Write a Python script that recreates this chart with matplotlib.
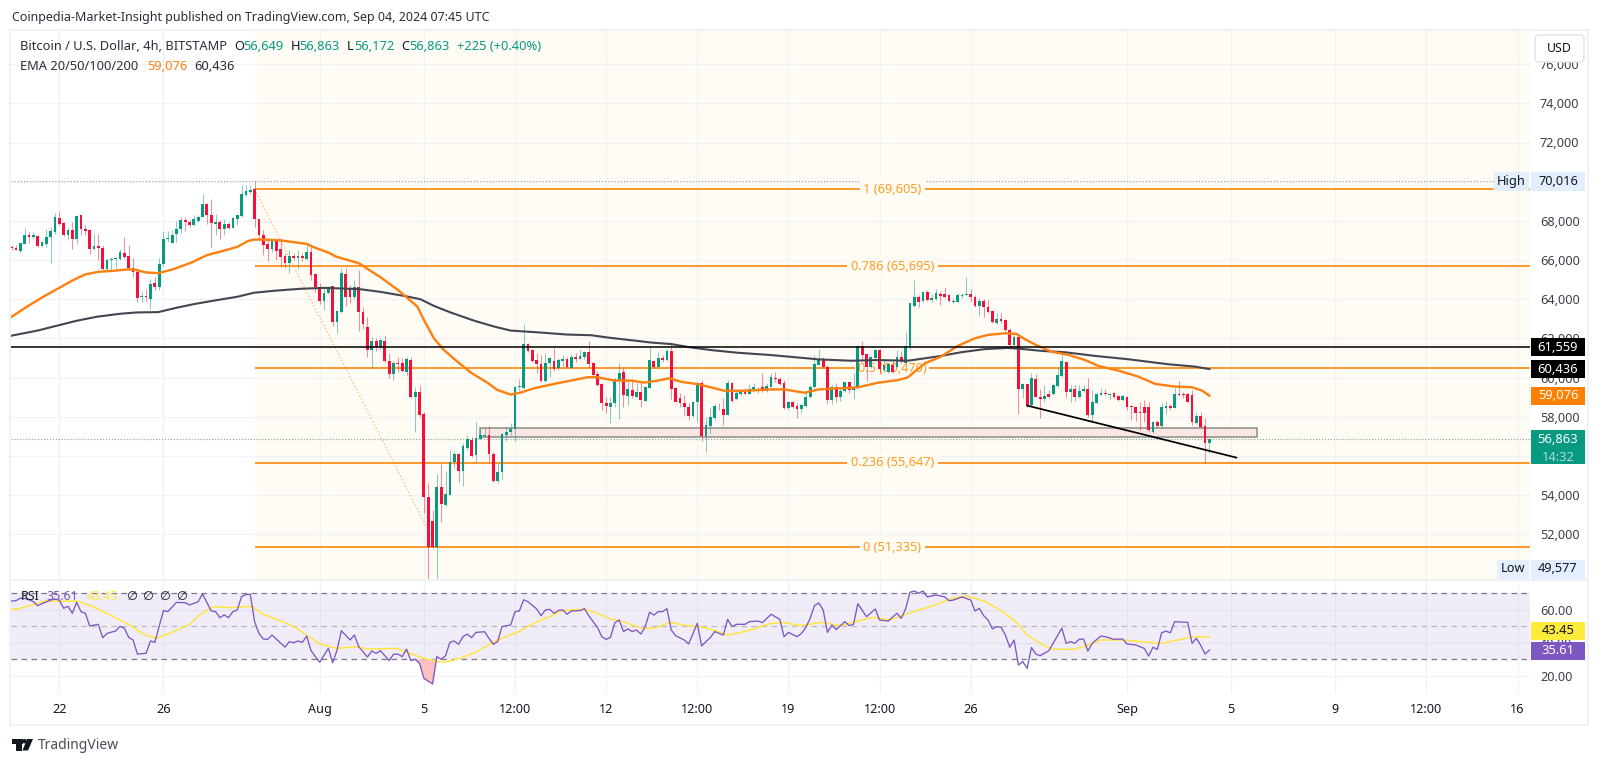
import matplotlib
matplotlib.use("Agg")
import matplotlib.pyplot as plt
from matplotlib.patches import Rectangle, FancyBboxPatch, Polygon, Circle

plt.rcParams['font.family'] = ['Noto Sans', 'DejaVu Sans']

# 4h bars, bar 0 = 22 Jul 2024 00:00
first_bar = -11
opens = [
66657,66606,66453,66844,67269,67167,67235,66708,66844,67167,
67439,68170,67898,67269,67524,67065,68289,67609,67524,66555,
66708,66606,65518,65977,66045,66045,66368,66215,65603,65399,
64107,64175,64005,64804,64634,65773,67065,66895,67354,67575,
68034,67949,67779,68000,68204,68850,68289,67830,67949,67575,
67864,67660,68119,68255,69309,69479,69615,68085,67269,66844,
66555,66980,66553,66213,65873,66213,66094,66213,66043,66434,
65277,64647,63915,64307,64664,62843,63371,65294,64562,64102,
64647,63371,62605,61413,61890,61549,61890,60834,60188,60732,
60732,60307,60903,58996,59286,58146,53924,52699,51371,54435,
53499,54009,55678,56103,55235,56392,56818,56052,56886,57039,
57073,56103,54741,55167,57073,57209,57362,59507,59456,61719,
61413,60885,60698,59847,60732,60868,60477,60868,60937,60477,
61039,60971,61073,61311,60732,60188,59677,58724,58486,58690,
59881,60290,59064,59371,59030,59286,58826,59473,60852,60562,
60987,60903,61379,59481,58936,58715,58477,58034,58766,59702,
57013,57524,57915,58511,58392,58085,59736,58885,59158,59277,
59158,59362,59396,59532,59328,59532,59992,59906,59736,58443,
58749,58545,58375,58562,58987,59498,60638,60962,60553,58851,
59498,59004,59328,59770,59362,59498,61608,61200,60519,60979,
61404,60383,60298,60638,60553,61064,60758,61574,63651,64127,
63906,64349,63957,64008,64264,64273,64204,63864,63881,64188,
64239,64273,64136,63677,63932,63626,63387,62809,63013,62945,
62434,61669,62094,59439,59660,58605,59949,59030,58894,59166,
59166,59592,60086,60818,59252,59422,58996,59320,59422,58077,
58707,59098,59234,59115,59200,59064,58860,59030,58554,58520,
58265,58520,58520,57243,57754,57532,58452,58554,58452,59166,
59166,59166,59098,57669,58060,57532,56649]
highs = [
66793,66759,66861,67660,67439,67439,67269,67014,67609,67694,
68391,68493,67949,67643,67949,68323,68323,67813,67609,67354,
67354,66759,66079,66164,66164,66589,67167,66759,66079,65569,
64413,64498,65025,65144,66079,67473,67473,67524,67983,68204,
68204,68034,68323,68289,69394,68935,69139,68374,68034,68119,
67949,68204,68323,69819,69853,69853,70016,68119,67524,67014,
67014,67014,67115,66349,66519,66349,66519,66349,66826,66826,
65328,64851,64562,64681,64681,63456,65583,65583,64732,64987,
65498,63592,63115,62094,62009,62009,62179,61277,60868,61073,
60987,61039,61073,59541,59626,58264,54605,53243,55082,55593,
55252,56307,56273,56137,56682,57073,56988,57754,57413,57413,
57533,56222,55626,57158,57499,57703,59575,59915,62741,61787,
61447,61243,61158,61243,61073,61498,60987,61158,61073,61209,
61243,61413,61345,61890,60817,60358,59711,59030,59030,59966,
60732,60477,59881,59915,59711,59796,59541,61583,60903,61328,
61158,61447,61838,59532,59192,59107,58715,58817,59787,59872,
58000,58511,58630,58715,58936,59872,59787,59396,59362,59447,
59651,59702,59532,60247,59702,60213,60298,60009,59872,58817,
58817,58681,58681,59277,59617,61149,61438,61030,60621,59617,
59702,59532,59787,59787,60213,61659,61881,61234,61098,61438,
61438,60928,60758,60860,61404,61370,62340,63821,64978,64212,
64383,64468,64263,64502,64434,64613,64273,64051,64307,64307,
65158,64511,64222,64085,64000,63966,63456,63285,63285,63013,
62554,62162,62128,59711,59677,60222,60188,59405,59626,59371,
59660,60528,61243,60869,59626,59626,59626,59626,59966,59371,
59200,59490,59405,59200,59269,59115,59132,59064,58605,58554,
58775,58860,58775,57805,57839,58724,58826,58656,59456,59830,
59286,59234,59371,58265,58265,57924,56863]
lows = [
66504,66487,66351,66827,66895,67099,66674,66674,66674,65858,
67354,67779,67218,67014,66589,66844,67303,67269,66300,66504,
65994,65484,65484,65484,65603,65994,66113,65501,65144,63835,
63835,63903,63478,64447,64447,65705,66929,66878,66929,67405,
67473,67694,67745,67949,68204,67830,66674,67303,67099,67269,
67609,67643,67779,68204,69275,69394,67694,67014,66249,65943,
66419,65994,65634,65583,65328,66008,65549,65975,66009,64987,
64392,63762,63456,64273,62639,62264,63320,63660,63796,64000,
62400,62468,61073,60477,61379,61413,60800,59966,59881,60307,
60290,60085,58962,57243,58009,53074,49700,51286,49577,52648,
53465,53992,55371,54690,54486,56307,55933,55678,56852,56988,
55712,54690,54605,54809,56767,57073,56784,59337,59405,61328,
60817,60256,59796,59779,60051,60324,60392,60562,60477,60477,
60817,60937,60971,60528,60051,59575,58350,58179,57703,58520,
57873,58520,58605,58945,58996,58486,58826,59456,60477,60477,
60817,60868,58928,58732,58511,58085,57830,58000,57745,56775,
56213,57115,57830,58341,57575,58085,58766,58851,59107,59141,
59141,59277,59226,59277,59277,59498,59787,59617,58409,58341,
58426,57915,58170,58511,58953,59464,60638,60485,58630,58630,
58766,58817,59277,59226,58919,59447,60928,59838,60468,60928,
60179,60298,60247,60247,60519,60723,60723,61404,63617,63617,
63872,63906,63872,63957,63702,64051,63881,63830,63864,64051,
64222,63881,63626,63149,63115,63285,62809,62741,62809,62383,
61447,61447,58128,58945,58520,58554,58996,57924,58775,58945,
59115,59541,60052,58996,58775,58809,58945,59286,58009,57754,
58656,59098,59098,58894,58945,58826,58826,58350,57839,57805,
57328,57754,57243,57192,57498,57498,58145,58350,58435,59064,
58945,58741,57584,57635,57447,55660,56172]
closes = [
66623,66521,66861,67269,67201,67269,66708,66912,67184,67473,
68204,67864,67269,67558,67065,68255,67575,67490,66589,66708,
66640,65518,65994,66045,66079,66385,66164,65569,65399,64039,
64175,64124,64770,64634,65773,67065,67116,67303,67575,68034,
67949,67779,68085,68221,68850,68323,67898,67949,67575,67864,
67660,68153,68289,69360,69513,69564,68085,67269,66793,66555,
66980,66453,66145,65873,66213,66111,66213,66111,66434,65243,
64613,63932,64341,64647,62860,63404,65328,64102,64102,64647,
63354,62741,61413,61890,61583,61924,60868,60188,60732,60698,
60324,60937,58996,59286,58094,53890,51371,51371,54435,53533,
54060,55712,56103,55235,56511,56852,56018,56903,57073,57073,
56103,54741,55167,57107,57243,57362,59541,59541,61719,61345,
60868,60698,59847,60766,60987,60426,60903,60971,60528,61039,
60954,61124,61311,60698,60137,59626,58724,58554,58724,59915,
60256,59115,59422,59064,59286,58860,59507,60903,60562,60987,
60903,61379,59422,58766,58681,58477,58034,58766,59702,57013,
57558,57966,58545,58477,58085,59702,58817,59192,59294,59158,
59396,59498,59328,59328,59583,60009,59906,59668,58443,58766,
58477,58409,58596,59021,59532,60672,60928,60519,58851,59498,
59021,59328,59753,59362,59532,61608,61132,60553,61030,61404,
60417,60638,60689,60298,61064,60809,61608,63787,64093,63872,
64349,63957,64042,64298,64161,64136,63915,63932,64222,64222,
64273,64136,63677,63915,63592,63336,62860,63013,62877,62434,
61669,62094,59422,59677,58554,59966,59030,58911,59064,59030,
59626,60137,60869,59269,59422,58996,59337,59422,58077,58741,
59149,59234,59149,59149,59030,58860,59064,58520,58520,58213,
58213,58213,57328,57754,57532,58486,58554,58452,59149,59098,
59115,58775,57720,58060,57498,56648,56863]

ema50_bars = [-11,-7.5,-3.7,0,3.2,5.9,9,12.5,15.5,17.5,20,22.8,26.3,30.5,34,37.8,41,43.6,45,48.6,51,57,58.6,62,63.7,69,74,78,82.5,84,86.3,88.6,91.7,94.8,98.6,100.9,104,106.3,109.4,114,117.9,121.7,124,127.9,131.7,134.8,137.9,140.6,143.2,147,150.2,153.2,157.8,164,167,171.7,175,179.4,183.9,188.6,193.2,195.5,199.4,203.2,207,211,214,218,220.5,222.5,225.5,228.6,232.5,236.3,239.4,244,248.6,252.5,257,261,263.3,265]
ema50_vals = [63104,63614,64124,64583,64974,65263,65399,65450,65518,65501,65365,65331,65535,65875,66249,66470,66674,66980,67048,67031,67000,66826,66655,66383,66179,65838,65123,64477,63626,62945,62009,61413,60817,60256,59745,59371,59133,59234,59456,59677,59847,60018,60018,59847,59847,59745,59847,59966,59787,59668,59498,59328,59328,59396,59396,59226,59396,59447,59498,59736,59872,60008,60723,61073,61617,62009,62179,62264,62230,61958,61617,61328,61158,60902,60596,60358,60052,59677,59541,59507,59337,59076]
ema200_bars = [-11,-5,0,4,8.6,14,17.8,22.8,27,31,36.3,41,44.8,49.4,55.5,61,65.6,69.3,74,79.4,83.2,86.3,90.2,95.5,100.2,104,111,117,122.5,127,132.5,136.4,141,145.5,150.2,156.3,164,171.7,175,182.5,188.6,195.5,200.9,203.2,207.8,213,218.6,221.7,226.3,231.7,238.6,246.3,255.5,261.6,265]
ema200_vals = [62140,62400,62679,62900,63104,63257,63325,63342,63563,63750,63954,64124,64328,64430,64532,64579,64545,64511,64375,64170,64000,63660,63320,62911,62604,62400,62298,62196,62162,62026,61890,61788,61711,61540,61404,61268,61149,60996,60928,60860,60894,60860,61030,61107,61294,61447,61515,61464,61362,61294,61107,60936,60681,60562,60436]

rsi_bars = [-11,-10,-9,-8,-6,-5,-4,-2,-1,0,1,2,3,4,5,6,7,9,10,11,13,14,15,16,17,18,20,21,22,24,25,27,29,30,32,33,35,36,37,38,39,40,41,42,43,44,45,46,47,48,49,52,53,54,55,56,57,58,60,62,63,64,65,67,68,69,71,72,73,74,76,77,78,79,80,81,82,83,84,86,87,88,89,90,91,92,93,94,95,96,98,99,100,101,102,104,105,106,107,108,110,111,112,113,114,115,116,117,118,120,121,122,123,124,125,126,127,128,129,130,131,132,133,134,135,136,137,138,139,140,141,142,144,145,147,148,149,150,151,153,154,155,156,158,159,161,162,164,166,167,168,170,171,172,173,174,175,176,177,178,179,181,182,183,184,186,188,189,191,193,194,195,196,197,198,199,200,202,204,205,206,208,210,211,212,213,214,215,216,217,218,219,220,221,222,223,224,225,226,228,231,232,233,234,235,236,237,238,240,241,243,245,246,248,250,251,252,253,254,255,256,257,260,261,262,263,264,265]
rsi_vals = [65.3,65.5,67.0,67.0,65.0,62.5,63.7,65.9,66.5,65.9,60.9,62.1,57.9,64.5,58.9,57.9,50.2,51.2,43.1,45.7,47.2,50.0,48.8,43.3,41.7,33.2,33.6,41.1,40.3,59.5,58.9,64.5,64.3,62.9,64.9,69.6,59.3,58.9,55.2,56.9,55.2,58.9,59.9,68.0,69.2,69.4,52.8,45.7,42.3,42.1,44.7,37.4,40.7,40.1,41.1,40.3,44.1,35.2,28.2,36.7,27.9,35.6,47.3,41.7,44.7,37.6,31.4,35.0,33.6,35.2,29.2,33.0,33.2,31.6,36.2,29.2,30.0,27.6,18.5,15.0,31.6,30.0,32.2,40.3,41.1,39.1,43.7,45.3,43.1,46.3,46.7,42.7,39.1,40.7,49.8,50.8,58.9,59.3,66.1,64.9,60.5,56.4,59.9,60.3,57.9,59.7,59.9,57.3,59.3,59.5,60.7,56.4,52.8,49.4,43.7,42.1,43.3,52.2,53.8,46.8,48.4,46.8,47.8,45.3,49.8,58.5,56.8,58.9,58.9,60.7,47.8,44.3,41.7,39.3,51.8,38.1,40.7,43.1,46.8,44.7,54.2,49.8,51.2,51.2,52.8,53.2,52.2,57.3,54.2,43.7,46.3,43.7,45.7,49.2,54.8,62.5,64.1,59.9,46.3,50.8,48.0,52.8,50.4,51.2,63.7,55.8,60.5,53.8,53.2,57.9,54.8,60.5,70.6,71.4,70.0,71.4,67.8,69.0,67.8,65.5,65.9,67.8,65.9,59.3,60.9,56.4,53.8,48.4,49.8,49.4,44.7,37.3,41.7,26.5,28.6,24.5,37.1,33.2,32.2,35.2,48.8,39.7,40.7,39.7,42.1,42.3,35.0,39.7,44.1,43.7,42.1,42.3,39.3,38.7,36.6,32.0,37.3,36.0,46.1,47.1,46.1,52.8,52.4,39.7,42.7,38.5,33.2,35.61]
rsi_ma_bars = [-11,-9,-5.6,-3,0,4,7.8,11.7,14.4,16.7,19.4,22.4,26.3,30,32.4,35.5,39.3,44.3,47,50,54,57,60,64,68.5,71.2,77.7,80.8,83.9,87,89.2,92.3,96.2,100,103.8,105.4,110,113,116,121,124,127,130,134.6,137.6,140.7,144.6,147.6,150.7,153.8,156.8,159.9,163.8,166.8,170.7,175.7,180,184,187.6,191.4,196.8,201.4,205.2,209,213.5,217.9,220.8,223,226,228.6,234,237,240,245,249.6,254,257.7,261,265]
rsi_ma_vals = [60.3,60.9,63.5,65.5,65.1,65.3,61.9,56.9,53.2,50.2,45.1,42.7,46.7,51.2,56.9,61.9,61.3,62.1,57.3,54.4,49.8,44.7,39.3,36.6,37.6,36.2,36.6,33.6,30.6,28.6,28.4,30.6,34.6,40.3,44.7,46.1,52.8,55.8,59.7,60.3,57.9,54.4,52.8,48.4,49.2,52.4,50.4,49.8,47.8,44.7,46.1,48.4,51.6,52.4,50.4,52.4,50.4,53.2,55.4,53.8,58.9,62.5,66.5,68.4,64.9,57.9,51.8,44.7,39.7,36.2,36.0,38.7,41.7,41.7,40.7,39.7,41.7,43.7,43.45]

price_ticks = list(range(52000, 78000, 2000))
hidden_price_ticks = [56000]
rsi_ticks = [20, 40, 60]
rsi_levels = [30, 50, 70]
x_tick_bars = [0, 24, 60, 84, 105, 126, 147, 168, 189, 210, 246, 270, 294, 315, 336]
x_tick_labels = ['22', '26', 'Aug', '5', '12:00', '12', '12:00', '19', '12:00', '26', 'Sep', '5', '9', '12:00', '16']
fib_levels = [69605, 65695, 60470, 55647, 51335]
fib_labels = ['1 (69,605)', '0.786 (65,695)', '0.5 (60,470)', '0.236 (55,647)', '0 (51,335)']
fib_start_bar = 45
fib_swing_end_bar = 87
h_line = 61559
high_price, low_price, last_price = 70016, 49577, 56863
zone_bars = (97, 276)
zone_prices = (56983, 57411)
trend_bars = [223, 271.2]
trend_prices = [58571, 55916]

GREEN, RED = '#089981', '#f5103c'
ORANGE = '#ff7f0f'
FIB = '#ff8c14'
FIBTXT = '#ff9d1f'
TXT = '#131722'
GRID = '#f1f2f4'
W, H = 1600, 764
fig = plt.figure(figsize=(W/100, H/100), dpi=100, facecolor='white')

def axes_px(l, t, r, b, **kw):
    return fig.add_axes([l/W, 1-b/H, (r-l)/W, (b-t)/H], **kw)

PANE_L, PANE_R = 11, 1530
XMIN = (PANE_L-59.3)/4.34
XMAX = (PANE_R-59.3)/4.34
ax = axes_px(PANE_L, 31, PANE_R, 579.5)
ax.set_xlim(XMIN, XMAX)
ax.set_ylim(52000-(579.5-534.3)/0.01959, 52000+(534.3-31)/0.01959)
rs = axes_px(PANE_L, 581, PANE_R, 694)
rs.set_xlim(XMIN, XMAX)
rs.set_ylim(30-(694-659.3)/1.65, 30+(659.3-581)/1.65)

for a in (ax, rs):
    a.set_axisbelow(True)
    for s in a.spines.values():
        s.set_visible(False)
    a.yaxis.tick_right()
    a.set_xticks(x_tick_bars)
    a.grid(True, color=GRID, lw=0.9)
    a.tick_params(length=0, labelsize=9.1, labelcolor=TXT, pad=7.2)
    a.set_facecolor('white')

ax.set_xticklabels([])
ax.set_yticks(price_ticks)
ax.set_yticklabels(['' if p in hidden_price_ticks else f'{p:,}' for p in price_ticks], color='#3c3f4a')
rs.set_xticklabels(x_tick_labels)
for lab, txt in zip(rs.get_xticklabels(), x_tick_labels):
    if txt in ('Aug', 'Sep'):
        lab.set_fontweight('bold')
rs.tick_params(axis='x', pad=6.8)
rs.set_yticks(rsi_ticks)
rs.set_yticklabels([f'{v:.2f}' for v in rsi_ticks], color='#3c3f4a')

# Fib background and levels
ax.axvspan(fib_start_bar, XMAX, color='#fffbf5', lw=0, zorder=0)
mid = (fib_start_bar+XMAX)/2
for p, lab in zip(fib_levels, fib_labels):
    ax.plot([fib_start_bar, XMAX], [p, p], color=FIB, lw=1.25, zorder=2, solid_capstyle='butt')
    ax.text(mid, p, lab, color=FIBTXT, fontsize=9.2, ha='center', va='center', zorder=2.2,
            bbox=dict(fc='#fffbf5', ec='none', pad=2.6 if lab != fib_labels[2] else 2.0))
ax.plot([fib_start_bar, fib_swing_end_bar], [fib_levels[0], fib_levels[-1]], color=FIB, lw=1.0,
        ls=(0, (1, 1.6)), alpha=0.55, zorder=2.3)

# Dotted lines
ax.axhline(high_price, color='#999999', lw=0.75, ls=(0, (1, 2)), zorder=1.5)
ax.axhline(last_price, color='#8aaaa3', lw=0.85, ls=(0, (1, 1.5)), zorder=1.5)

# Zone
ax.add_patch(Rectangle((zone_bars[0], zone_prices[0]), zone_bars[1]-zone_bars[0],
                       zone_prices[1]-zone_prices[0], fc='#fae6e3', ec='#8c8c88', lw=1.1, zorder=2.5))

# Candles
bars = list(range(first_bar, first_bar+len(opens)))
wick_colors = [GREEN if c >= o else RED for o, c in zip(opens, closes)]
ax.vlines(bars, lows, highs, colors=wick_colors, lw=0.75, alpha=0.48, zorder=3)
for b, o, c, col in zip(bars, opens, closes, wick_colors):
    ax.bar(b, max(abs(c-o), 40), bottom=min(o, c), width=0.64, color=col, lw=0, zorder=3.2)

# EMAs and lines
ax.plot(ema200_bars, ema200_vals, color='#434651', lw=1.5, zorder=4, solid_joinstyle='round')
ax.plot(ema50_bars, ema50_vals, color=ORANGE, lw=1.7, zorder=4.2, solid_joinstyle='round')
ax.axhline(h_line, color='black', lw=1.1, zorder=5)
ax.plot(trend_bars, trend_prices, color='black', lw=1.25, zorder=5)

# RSI
rs.axhspan(rsi_levels[0], rsi_levels[2], color='#7e57c2', alpha=0.1, lw=0, zorder=0.6)
for lv in rsi_levels:
    rs.axhline(lv, color='#787b86' if lv != 50 else '#b9b9bf', lw=0.9, ls=(0, (4.5, 3.5)), zorder=1)
rs.fill_between(rsi_bars, rsi_vals, rsi_levels[0], where=[v < rsi_levels[0] and 80 < b < 90 for b, v in zip(rsi_bars, rsi_vals)],
                interpolate=True, color='#fbc0c0', lw=0, zorder=1.2)
rs.plot(rsi_ma_bars, rsi_ma_vals, color='#ffe53b', lw=1.05, zorder=2)
rs.plot(rsi_bars, rsi_vals, color='#7e57c2', lw=0.95, zorder=3)

# Overlay in pixels
ov = fig.add_axes([0, 0, 1, 1], zorder=10)
ov.set_xlim(0, W); ov.set_ylim(H, 0); ov.axis('off'); ov.patch.set_alpha(0)

def ypx(a, v):
    return H - a.transData.transform((0, v))[1]

def t(x, y, s, color=TXT, size=8.9, ha='left', va='center', **kw):
    return ov.text(x, y, s, color=color, fontsize=size, ha=ha, va=va, **kw)

# Frame
ov.add_patch(Rectangle((10, 29.5), 1578, 695.5, fc='none', ec='#eef1f6', lw=1.4))
ov.plot([10, 1588], [580, 580], color='#eef1f6', lw=1.4)

# Header
t(12, 17, 'Coinpedia-Market-Insight published on TradingView.com, Sep 04, 2024 07:45 UTC', size=9.0, color='#2a2e39')
t(20.5, 47, 'Bitcoin / U.S. Dollar, 4h, BITSTAMP', size=9.25, color='#2a2e39')
for x, s, c in [(234, 'O', TXT), (243, '56,649', GREEN), (291, 'H', TXT), (299, '56,863', GREEN), (347, 'L', TXT),
                (354, '56,172', GREEN), (401, 'C', TXT), (409, '56,863', GREEN), (457, '+225 (+0.40%)', GREEN)]:
    t(x, 47, s, color=c, size=9.25)
t(20.5, 66, 'EMA 20/50/100/200', size=9.25, color='#2a2e39')
t(147, 66, '59,076', color=ORANGE, size=9.25)
t(194, 66, '60,436', color='#2a2e39', size=9.25)

# USD button
ov.add_patch(FancyBboxPatch((1535, 35), 49, 27, boxstyle='round,pad=0,rounding_size=4', fc='white', ec='#e0e3eb', lw=1))
t(1559.5, 48.5, 'USD', ha='center', size=8.9)

# Price tags
def tag(v, s, fc, tc='white', a=ax, y=None, weight='semibold'):
    yy = ypx(a, v) if y is None else y
    ov.add_patch(Rectangle((1531, yy-9), 54, 18, fc=fc, ec='none', zorder=6))
    t(1558, yy, s, color=tc, size=9.3, ha='center', zorder=7, fontweight=weight)

tag(h_line, f'{h_line:,}', 'black')
tag(ema200_vals[-1], f'{ema200_vals[-1]:,}', 'black')
tag(ema50_vals[-1], f'{ema50_vals[-1]:,}', '#ff7f00')
yl = ypx(ax, last_price)
ov.add_patch(Rectangle((1531, yl-9), 54, 34, fc='#089981', ec='none', zorder=6))
t(1558, yl, f'{last_price:,}', color='white', size=9.3, ha='center', zorder=7, fontweight='semibold')
t(1558, yl+18.5, '14:32', color='#a8dcd2', size=9.3, ha='center', zorder=7, fontweight='semibold')
yh = ypx(ax, high_price)
for rect, s, xc in [((1531, 54), f'{high_price:,}', 1558), ((1494, 35), 'High', 1511.5)]:
    ov.add_patch(Rectangle((rect[0], yh-9), rect[1], 18.5, fc='#e3effd', ec='none', zorder=6))
    t(xc, yh, s, ha='center', zorder=7, size=9.2)
for rect, s, xc in [((1531, 54), f'{low_price:,}', 1558), ((1497, 32), 'Low', 1513)]:
    ov.add_patch(Rectangle((rect[0], 560), rect[1], 18.5, fc='#e3effd', ec='none', zorder=6))
    t(xc, 569, s, ha='center', zorder=7, size=9.2)
tag(43.45, '43.45', '#ffeb3b', TXT, a=rs, y=631)
tag(35.61, '35.61', '#7e57c2', 'white', a=rs, y=650.5)

# RSI legend
t(21, 597, 'RSI', size=8.9)
t(46.7, 597, '35.61', color='#7e57c2', size=8.9)
t(87, 597, '43.45', color='#ffeb3b', size=8.9)
for x in (131, 147.7, 164.3, 181):
    t(x, 597, '∅', ha='center', size=8.9)

# Logo
ov.add_patch(Rectangle((11.5, 739), 11, 4.5, fc='#131722', ec='none'))
ov.add_patch(Rectangle((15.5, 739), 6.5, 11.5, fc='#131722', ec='none'))
ov.add_patch(Circle((24.6, 741.2), 2.2, fc='#131722', ec='none'))
ov.add_patch(Polygon([(27, 739), (33, 739), (28, 750.5), (22.5, 750.5)], fc='#131722', ec='none'))
t(37.5, 745.5, 'TradingView', color='#4a4e5a', size=10.0)

fig.savefig('out.png', dpi=100, facecolor='white')
